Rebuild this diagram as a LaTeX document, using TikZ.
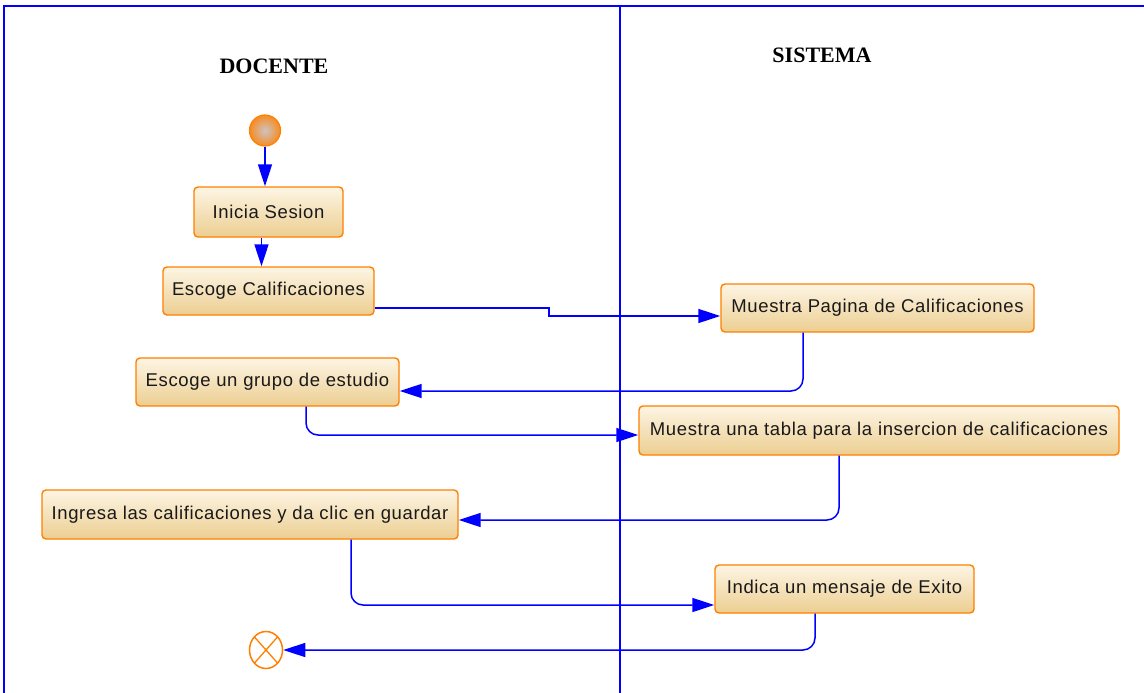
\documentclass[tikz,border=0pt]{standalone}
\usepackage{fontspec}
\setmainfont{Liberation Sans}
\newfontfamily\titlefont{Liberation Serif}
\newfontfamily\boxfont[LetterSpace=3.4]{Liberation Sans}
\usetikzlibrary{arrows.meta,calc,shapes.geometric}
\definecolor{lane}{RGB}{0,0,255}
\definecolor{bord}{RGB}{255,128,0}
\definecolor{boxtop}{RGB}{253,245,228}
\definecolor{boxbot}{RGB}{236,206,145}
\tikzset{
  x=1pt,y=-1pt,
  actbox/.style={draw=bord,line width=1.4pt,rounded corners=4pt,top color=boxtop,bottom color=boxbot,
    inner sep=0pt,font=\boxfont\fontsize{18.5}{22}\selectfont,text=black!90},
  flow/.style={draw=lane,line width=1.5pt,rounded corners=12pt,-{Triangle[length=22pt,width=14pt]}},
  lanel/.style={draw=lane,line width=1.3pt},
  title/.style={font=\titlefont\bfseries\fontsize{22}{26}\selectfont,inner sep=0pt}
}
\begin{document}
\begin{tikzpicture}
\useasboundingbox (0,0) rectangle (1144,693);
% lanes
\draw[lanel] (4,693) -- (4,6) -- (1144,6);
\draw[lanel] (620,6) -- (620,693);
\node[title] (tdoc) at (274,66) {DOCENTE};
\node[title] (tsis) at (822,55) {SISTEMA};
% start / end
\node[circle,draw=bord,line width=1.2pt,minimum size=31pt,inner sep=0pt,
  inner color={rgb,255:red,205;green,195;blue,195},outer color={rgb,255:red,246;green,140;blue,35}] (start) at (265,130.5) {};
\node[ellipse,draw=bord,line width=1.5pt,minimum width=33pt,minimum height=37pt,inner sep=0pt,fill=white] (end) at (266,650) {};
\draw[bord,line width=1.3pt] ($(end.center)+(-11.5,-13)$) -- ($(end.center)+(11.5,13)$);
\draw[bord,line width=1.3pt] ($(end.center)+(11.5,-13)$) -- ($(end.center)+(-11.5,13)$);
% activities
\node[actbox,minimum width=149pt,minimum height=50pt] (b1) at (268.5,212) {Inicia Sesion};
\node[actbox,minimum width=211pt,minimum height=48pt] (b2) at (268.5,291) {Escoge Calificaciones};
\node[actbox,minimum width=313pt,minimum height=48pt] (b3) at (877.5,308) {Muestra Pagina de Calificaciones};
\node[actbox,minimum width=263pt,minimum height=48pt] (b4) at (267.5,382) {Escoge un grupo de estudio};
\node[actbox,minimum width=480pt,minimum height=49pt] (b5) at (879,430.5) {Muestra una tabla para la insercion de calificaciones};
\node[actbox,minimum width=416pt,minimum height=49pt] (b6) at (250,514.5) {Ingresa las calificaciones y da clic en guardar};
\node[actbox,minimum width=259pt,minimum height=48pt] (b7) at (844.5,589) {Indica un mensaje de Exito};
% connectors
\draw[flow] (start.south) -- (start.south |- b1.north);
\draw[flow] ($(b1.south)+(-7,0)$) -- ($(b2.north)+(-7,0)$);
\draw[flow,rounded corners=0pt] ($(b2.east)+(0,17)$) -- (549,308) -- (549,316) -- ($(b3.west)+(0,8)$);
\draw[flow] ($(b3.south)+(-74.5,0)$) |- ($(b4.east)+(0,9)$);
\draw[flow] ($(b4.south)+(38.5,0)$) |- ($(b5.west)+(0,4.5)$);
\draw[flow] ($(b5.south)+(-40,0)$) |- ($(b6.east)+(0,5.5)$);
\draw[flow] ($(b6.south)+(101,0)$) |- ($(b7.west)+(0,16)$);
\draw[flow] ($(b7.south)+(-29.5,0)$) |- (end.east);
\end{tikzpicture}
\end{document}
